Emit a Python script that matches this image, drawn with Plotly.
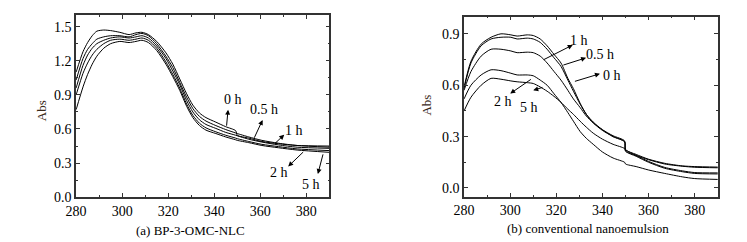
import plotly.graph_objects as go

FONT = "Liberation Serif"

# ---------------- Panel (a): BP-3-OMC-NLC ----------------
wl_a = [280, 283, 285, 287, 289, 292, 295, 299, 303, 306, 308.6, 311.4, 315, 319, 322,
        325, 328, 330.7, 333.6, 336.4, 340.7, 345, 349.3, 350, 355, 360.7, 367.9, 376, 390]
a_0h = [1.10, 1.28, 1.36, 1.42, 1.46, 1.47, 1.465, 1.45, 1.43, 1.445, 1.45, 1.43, 1.37, 1.27, 1.17,
        1.04, 0.91, 0.81, 0.74, 0.70, 0.66, 0.62, 0.585, 0.545, 0.52, 0.49, 0.47, 0.455, 0.45]
a_05h = [1.03, 1.22, 1.30, 1.35, 1.39, 1.41, 1.42, 1.42, 1.41, 1.43, 1.44, 1.42, 1.35, 1.24, 1.14,
         1.01, 0.88, 0.78, 0.71, 0.67, 0.63, 0.595, 0.565, 0.56, 0.53, 0.50, 0.475, 0.455, 0.44]
a_1h = [0.96, 1.16, 1.25, 1.31, 1.35, 1.38, 1.40, 1.41, 1.40, 1.41, 1.42, 1.40, 1.33, 1.22, 1.11,
        0.99, 0.85, 0.75, 0.68, 0.64, 0.605, 0.57, 0.545, 0.54, 0.51, 0.485, 0.46, 0.44, 0.43]
a_2h = [0.90, 1.09, 1.18, 1.25, 1.30, 1.35, 1.38, 1.39, 1.38, 1.39, 1.40, 1.38, 1.31, 1.19, 1.08,
        0.96, 0.82, 0.72, 0.65, 0.61, 0.575, 0.545, 0.52, 0.515, 0.49, 0.465, 0.445, 0.425, 0.41]
a_5h = [0.77, 0.97, 1.08, 1.17, 1.24, 1.31, 1.35, 1.37, 1.36, 1.37, 1.38, 1.36, 1.29, 1.17, 1.06,
        0.94, 0.80, 0.70, 0.63, 0.59, 0.56, 0.53, 0.505, 0.50, 0.48, 0.455, 0.435, 0.415, 0.395]

# ---------------- Panel (b): conventional nanoemulsion ----------------
wl_b = [280, 283, 287.4, 291.7, 296, 300.3, 303, 307.4, 310, 313, 316, 319, 322, 325,
        327.4, 330.3, 333, 336, 340, 344.6, 349.6, 350, 354.6, 360, 367, 374.6, 380, 390]
b_0h = [0.59, 0.74, 0.84, 0.88, 0.90, 0.894, 0.887, 0.894, 0.89, 0.87, 0.83, 0.78, 0.73, 0.64,
        0.58, 0.495, 0.43, 0.38, 0.336, 0.30, 0.27, 0.224, 0.196, 0.168, 0.144, 0.129, 0.125, 0.122]
b_05h = [0.58, 0.73, 0.83, 0.87, 0.88, 0.88, 0.87, 0.875, 0.87, 0.85, 0.81, 0.76, 0.71, 0.63,
         0.565, 0.49, 0.43, 0.385, 0.34, 0.305, 0.275, 0.225, 0.19, 0.155, 0.12, 0.10, 0.09, 0.088]
b_1h = [0.57, 0.68, 0.77, 0.81, 0.81, 0.80, 0.79, 0.793, 0.79, 0.77, 0.73, 0.68, 0.63, 0.57,
        0.52, 0.47, 0.42, 0.38, 0.34, 0.30, 0.27, 0.215, 0.185, 0.15, 0.115, 0.095, 0.085, 0.082]
b_2h = [0.52, 0.60, 0.66, 0.69, 0.685, 0.67, 0.66, 0.66, 0.655, 0.63, 0.60, 0.55, 0.50, 0.44,
        0.39, 0.33, 0.29, 0.255, 0.21, 0.175, 0.15, 0.14, 0.125, 0.105, 0.085, 0.065, 0.055, 0.05]
b_5h = [0.45, 0.53, 0.60, 0.64, 0.635, 0.625, 0.62, 0.615, 0.61, 0.59, 0.565, 0.535, 0.50, 0.46,
        0.43, 0.39, 0.355, 0.32, 0.285, 0.255, 0.23, 0.215, 0.19, 0.165, 0.14, 0.127, 0.121, 0.118]

# label positions (data units): text x, text y, arrow tail x, tail y, head x, head y
labels_a = ["0 h", "0.5 h", "1 h", "2 h", "5 h"]
lab_a = [(348.1, 0.86, 345.3, 0.616, 346.0, 0.77),
         (361.4, 0.77, 357.1, 0.51, 361.0, 0.68),
         (374.7, 0.59, 365.7, 0.46, 370.4, 0.55),
         (368.1, 0.214, 379.3, 0.41, 372.1, 0.27),
         (381.9, 0.11, 387.4, 0.39, 385.0, 0.205)]
labels_b = ["1 h", "0.5 h", "0 h", "2 h", "5 h"]
lab_b = [(330.0, 0.859, 313.9, 0.745, 327.1, 0.835),
         (339.1, 0.779, 322.4, 0.715, 332.9, 0.76),
         (344.0, 0.659, 327.4, 0.62, 338.9, 0.667),
         (296.7, 0.504, 309.6, 0.64, 300.0, 0.551),
         (308.1, 0.47, 314.6, 0.59, 310.0, 0.57)]

fig = go.Figure()
line = dict(color="black", width=1, shape="spline", smoothing=0.7)
for ys in [a_0h, a_05h, a_1h, a_2h, a_5h]:
    fig.add_trace(go.Scatter(x=wl_a, y=ys, mode="lines", line=line, xaxis="x", yaxis="y",
                             showlegend=False))
for ys in [b_0h, b_05h, b_1h, b_2h, b_5h]:
    fig.add_trace(go.Scatter(x=wl_b, y=ys, mode="lines", line=line, xaxis="x2", yaxis="y2",
                             showlegend=False))

tickfont = dict(family=FONT, size=14, color="black")
common = dict(showline=True, linecolor="#333", linewidth=1.5, mirror="ticks", ticks="inside",
              ticklen=4, tickcolor="#333", tickwidth=1, showgrid=False, zeroline=False,
              tickfont=tickfont)
minor = dict(ticks="inside", ticklen=2, tickcolor="#333", showgrid=False)

fig.update_layout(
    width=747, height=242, margin=dict(l=0, r=0, t=0, b=0),
    plot_bgcolor="white", paper_bgcolor="white",
    font=dict(family=FONT, size=14, color="black"),
    xaxis=dict(domain=[0.0776, 0.4217], range=[280, 390], dtick=20, tick0=280, anchor="y",
               minor=dict(dtick=10, **minor), **common),
    yaxis=dict(domain=[0.1913, 0.969], range=[0, 1.6], dtick=0.3, tick0=0, tickformat=".1f",
               anchor="x", minor=dict(dtick=0.15, **minor), **common),
    xaxis2=dict(domain=[0.6047, 0.9495], range=[280, 390], dtick=20, tick0=280, anchor="y2",
                minor=dict(dtick=10, **minor), **common),
    yaxis2=dict(domain=[0.1942, 0.9628], range=[-0.05, 1.0], dtick=0.3, tick0=0, tickformat=".1f",
                anchor="x2", minor=dict(dtick=0.15, **minor), **common),
)

anns = []
labfont = dict(family=FONT, size=14, color="black")
for (xr, yr, labs, pos) in [("x", "y", labels_a, lab_a), ("x2", "y2", labels_b, lab_b)]:
    for t, (tx, ty, sx, sy, hx, hy) in zip(labs, pos):
        anns.append(dict(x=tx, y=ty, xref=xr, yref=yr, text=t, showarrow=False, font=labfont))
        anns.append(dict(x=hx, y=hy, ax=sx, ay=sy, xref=xr, yref=yr, axref=xr, ayref=yr,
                         text="", showarrow=True, arrowhead=2, arrowsize=1, arrowwidth=1,
                         arrowcolor="black", standoff=0, startstandoff=0))

capfont = dict(family=FONT, size=13, color="black")
anns += [
    dict(x=174 / 747, y=1 - 230 / 242, xref="paper", yref="paper", text="(a) BP-3-OMC-NLC",
         showarrow=False, font=capfont, xanchor="center", yanchor="middle"),
    dict(x=578 / 747, y=1 - 228 / 242, xref="paper", yref="paper", text="(b) conventional nanoemulsion",
         showarrow=False, font=capfont, xanchor="center", yanchor="middle"),
    dict(x=23 / 747, y=1 - 106 / 242, xref="paper", yref="paper", text="Abs", textangle=-90,
         showarrow=False, font=dict(family=FONT, size=13, color="#3a2a1a"),
         xanchor="center", yanchor="middle"),
    dict(x=414 / 747, y=1 - 100 / 242, xref="paper", yref="paper", text="Abs", textangle=-90,
         showarrow=False, font=dict(family=FONT, size=13, color="#3a2a1a"),
         xanchor="center", yanchor="middle"),
]
fig.update_layout(annotations=anns)

fig.write_html("out.html")
